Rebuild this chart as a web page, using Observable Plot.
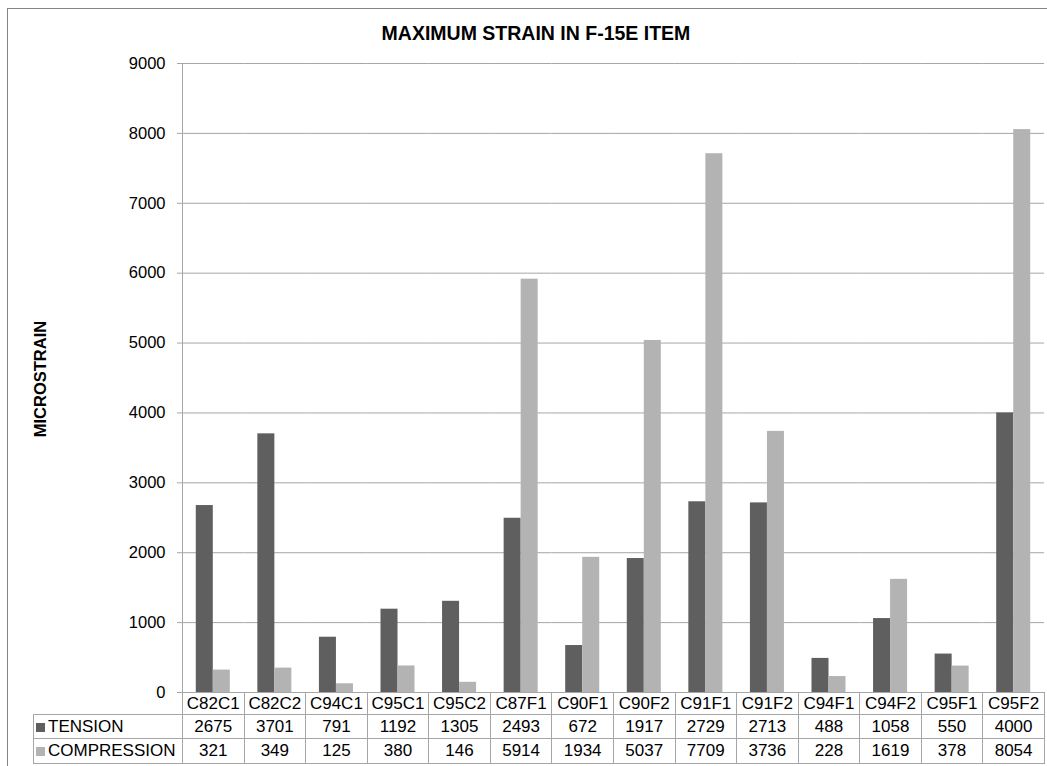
<!DOCTYPE html>
<html>
<head>
<meta charset="utf-8">
<script src="https://cdn.jsdelivr.net/npm/d3@7"></script>
<script src="https://cdn.jsdelivr.net/npm/@observablehq/plot@0.6"></script>
<style>
  html, body { margin: 0; padding: 0; background: #fff; }
  #chart { position: relative; width: 1047px; height: 766px; overflow: hidden; font-family: "Liberation Sans", Arial, sans-serif; color: #000; }
  #frame { position: absolute; left: 7px; top: 8px; width: 1100px; height: 800px; border-top: 1px solid #858585; border-left: 1px solid #858585; }
  #title { position: absolute; left: 0; top: 24px; width: 1072px; text-align: center; font-weight: bold; font-size: 19.5px; line-height: 19.5px; }
  #ylabel { position: absolute; left: 40px; top: 379px; transform: translate(-50%, -50%) rotate(-90deg); font-weight: bold; font-size: 16.5px; white-space: nowrap; }
  #plot { position: absolute; left: 0; top: 0; }
  #axisline { position: absolute; left: 182px; top: 63px; width: 0; height: 629px; border-left: 1px solid #a6a6a6; }
  #tbl { position: absolute; left: 33px; top: 692px; border-collapse: collapse; table-layout: fixed; font-size: 17px; }
  #tbl td, #tbl th { border: 1px solid #a6a6a6; padding: 0; text-align: center; font-weight: normal; white-space: nowrap; overflow: hidden; }
  #tbl td.blank { border-top: none; border-left: none; }
  #tbl th { text-align: left; }
  #tbl .key { display: inline-block; width: 9px; height: 9px; margin: 0 3px 0 2px; vertical-align: 0px; }
</style>
</head>
<body>
<div id="chart">
  <div id="frame"></div>
  <div id="plot"></div>
  <div id="axisline"></div>
  <div id="title"></div>
  <div id="ylabel"></div>
  <table id="tbl"></table>
</div>
<script>
const titleText = "MAXIMUM STRAIN IN F-15E ITEM";
const yAxisLabel = "MICROSTRAIN";
const categories = ["C82C1","C82C2","C94C1","C95C1","C95C2","C87F1","C90F1","C90F2","C91F1","C91F2","C94F1","C94F2","C95F1","C95F2"];
const seriesNames = ["TENSION","COMPRESSION"];
const tension = [2675,3701,791,1192,1305,2493,672,1917,2729,2713,488,1058,550,4000];
const compression = [321,349,125,380,146,5914,1934,5037,7709,3736,228,1619,378,8054];
const yTicks = [0,1000,2000,3000,4000,5000,6000,7000,8000,9000];
const seriesColors = ["#5f5f5f","#b3b3b3"];

const seriesValues = [tension, compression];
const data = categories.flatMap((c, i) => seriesNames.map((s, j) => ({cat: c, series: s, value: seriesValues[j][i]})));

document.getElementById("title").textContent = titleText;
document.getElementById("ylabel").textContent = yAxisLabel;

const chart = Plot.plot({
  width: 1047,
  height: 700,
  marginLeft: 182,
  marginRight: 3,
  marginTop: 63,
  marginBottom: 8,
  style: {fontFamily: "'Liberation Sans', Arial, sans-serif", fontSize: "16px", background: "transparent", overflow: "visible", color: "#000"},
  fx: {domain: categories, paddingInner: 0, paddingOuter: 0, round: false, axis: null},
  x: {domain: seriesNames, paddingInner: 0, paddingOuter: 0.81, round: false, axis: null},
  y: {domain: [0, 9000], axis: null},
  color: {domain: seriesNames, range: seriesColors},
  marks: [
    Plot.gridY(yTicks, {stroke: "#a6a6a6", strokeOpacity: 1}),
    Plot.barY(data, {fx: "cat", x: "series", y: "value", fill: "series"}),
    Plot.axisY(yTicks, {tickSize: 5, tickPadding: 12, stroke: "#a6a6a6", fill: "#000", fontSize: 16.5, tickFormat: d => String(d), label: null})
  ]
});
document.getElementById("plot").appendChild(chart);

// data table below the chart
const tbl = document.getElementById("tbl");
const headW = 149, colW = 862 / categories.length;
const cg = document.createElement("colgroup");
[headW, ...categories.map(() => colW)].forEach(w => {
  const col = document.createElement("col");
  col.style.width = w + "px";
  cg.appendChild(col);
});
tbl.appendChild(cg);
tbl.style.width = (headW + 862) + "px";

const r0 = document.createElement("tr");
r0.style.height = "22px";
const blank = document.createElement("td");
blank.className = "blank";
r0.appendChild(blank);
categories.forEach(c => { const td = document.createElement("td"); td.textContent = c; r0.appendChild(td); });
tbl.appendChild(r0);

const rowHeights = ["24px", "25px"];
seriesNames.forEach((s, j) => {
  const tr = document.createElement("tr");
  tr.style.height = rowHeights[j];
  const th = document.createElement("th");
  const key = document.createElement("span");
  key.className = "key";
  key.style.background = seriesColors[j];
  th.appendChild(key);
  th.appendChild(document.createTextNode(s));
  tr.appendChild(th);
  seriesValues[j].forEach(v => { const td = document.createElement("td"); td.textContent = v; tr.appendChild(td); });
  tbl.appendChild(tr);
});
</script>
</body>
</html>
